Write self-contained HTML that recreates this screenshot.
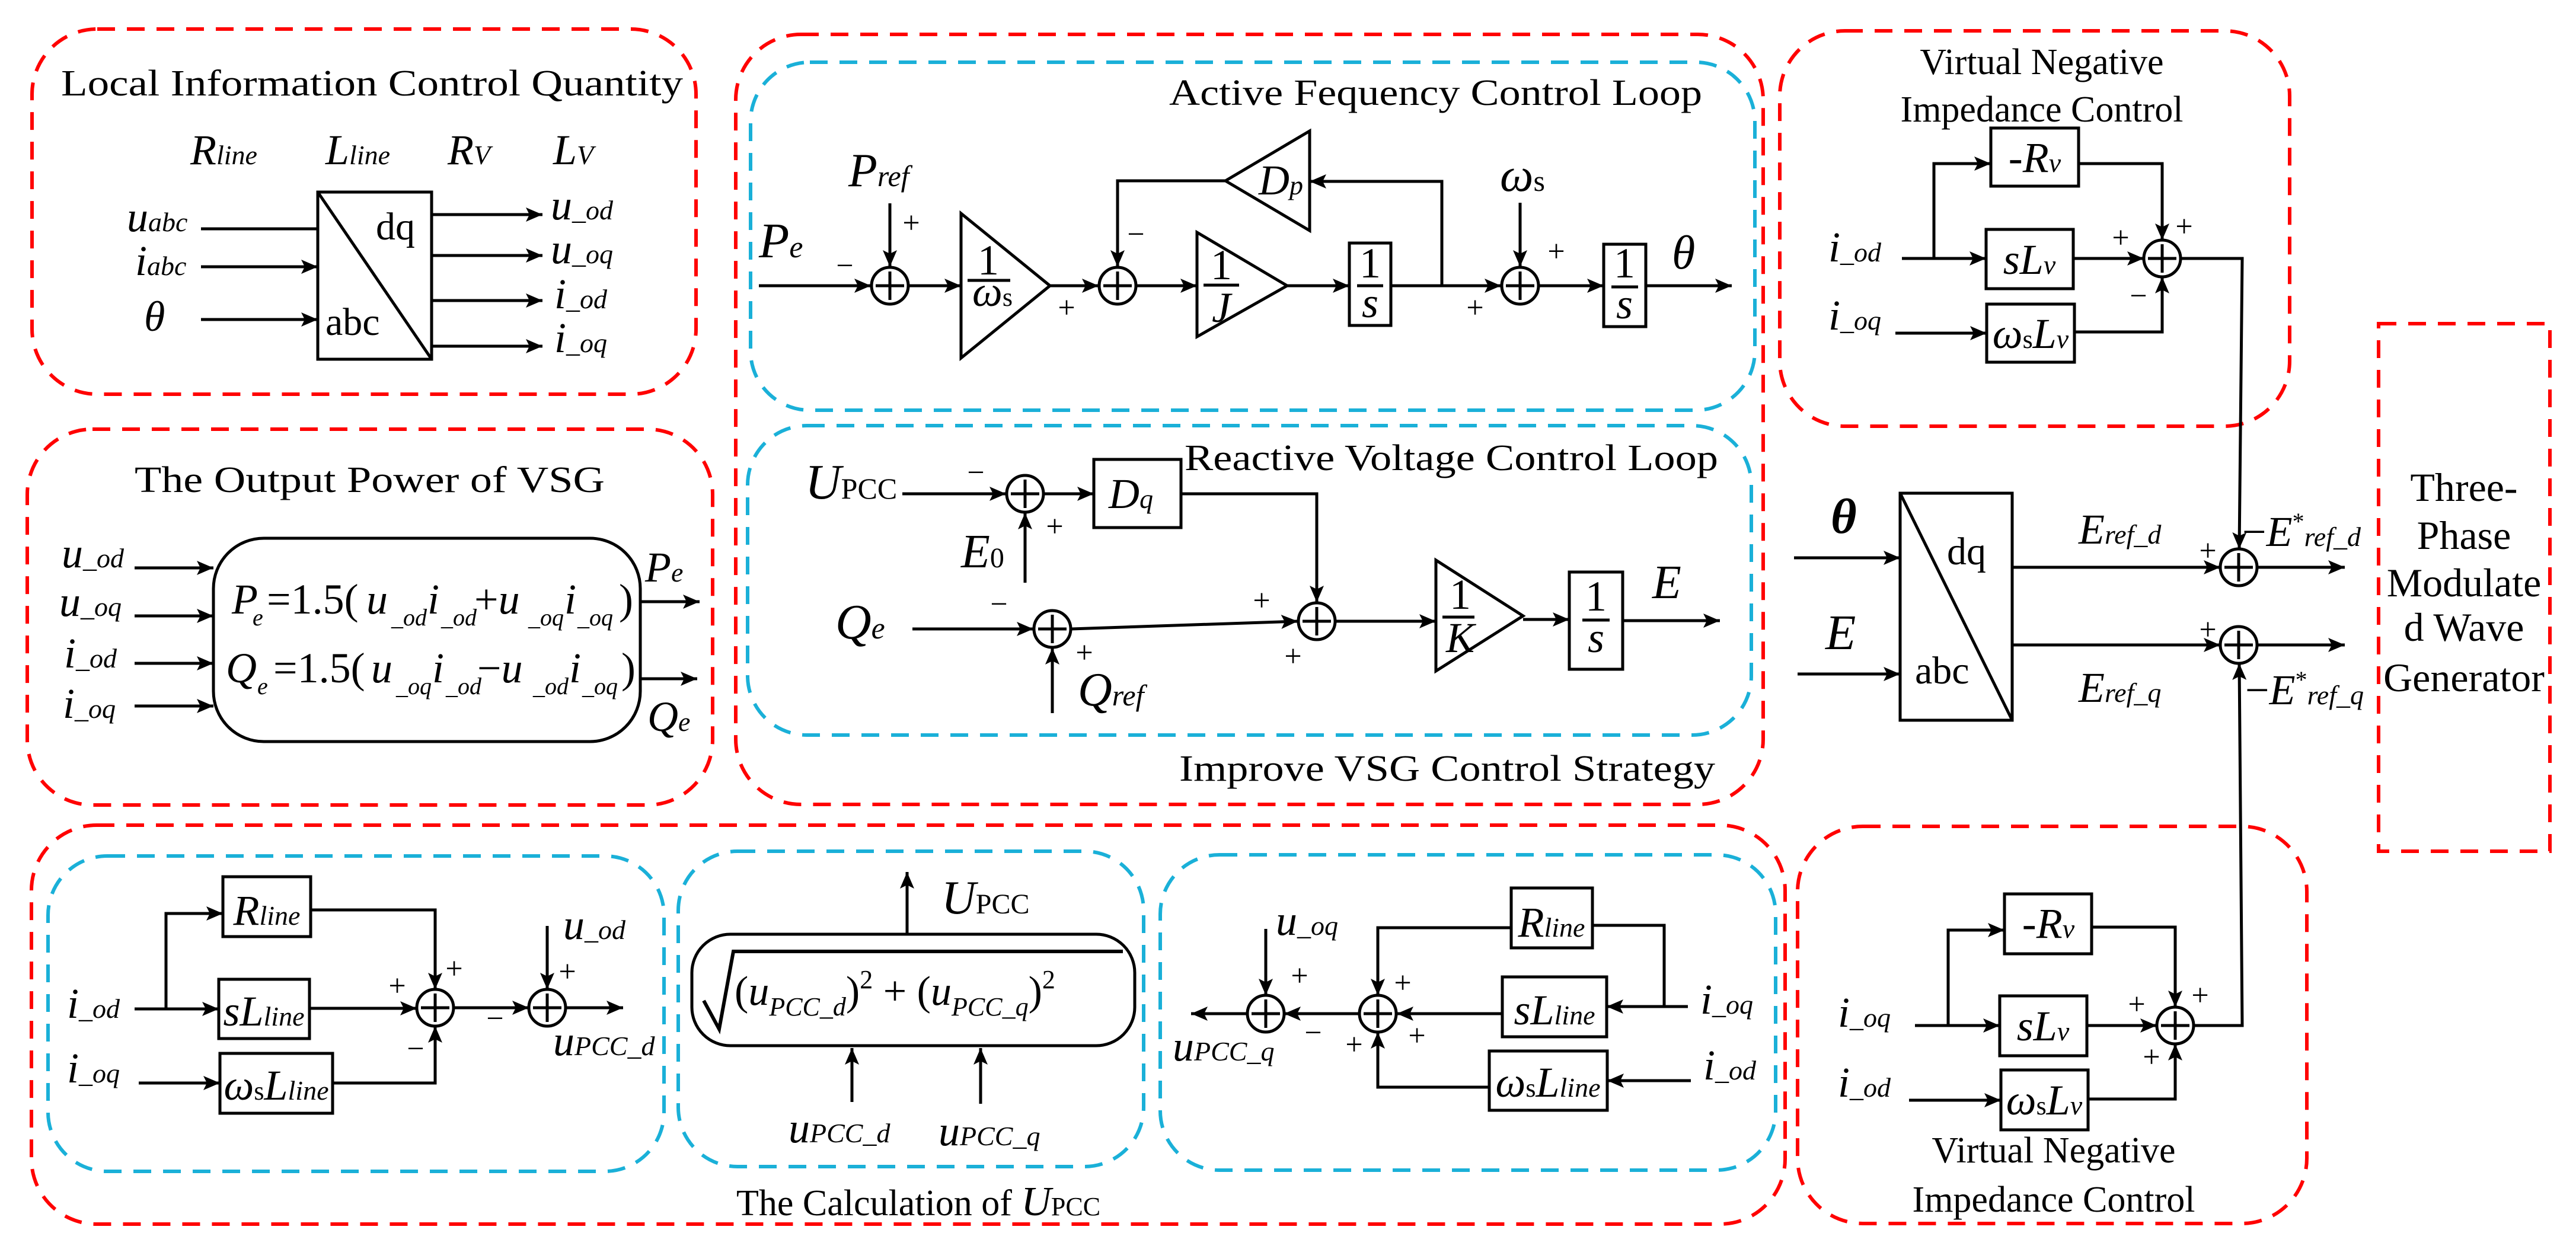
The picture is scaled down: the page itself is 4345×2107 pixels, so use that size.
<!DOCTYPE html>
<html><head><meta charset="utf-8"><style>html,body{margin:0;padding:0;background:#fff}svg{display:block}</style></head>
<body>
<svg width="4345" height="2107" viewBox="0 0 4345 2107" xmlns="http://www.w3.org/2000/svg" font-family="Liberation Serif, serif">
<defs>
<marker id="a" markerUnits="userSpaceOnUse" markerWidth="30" markerHeight="24" refX="28" refY="12" orient="auto"><path d="M0,0 L28,12 L0,24 L6,12 z" fill="#000"/></marker>
<g id="sum"><circle r="31" fill="#fff" stroke="#000" stroke-width="5"/><path d="M-24,0H24M0,-24V24" stroke="#000" stroke-width="5"/></g>
</defs>
<rect width="4345" height="2107" fill="#fff"/>

<g fill="none" stroke-width="6" stroke-dasharray="30,20">
<rect x="54" y="49" width="1120" height="616" rx="110" stroke="#f00"/>
<rect x="46" y="724" width="1156" height="634" rx="110" stroke="#f00"/>
<rect x="1241" y="58" width="1733" height="1299" rx="110" stroke="#f00"/>
<rect x="1266" y="105" width="1694" height="587" rx="100" stroke="#1ab0d8"/>
<rect x="1261" y="718" width="1693" height="522" rx="100" stroke="#1ab0d8"/>
<rect x="3002" y="52" width="860" height="667" rx="110" stroke="#f00"/>
<rect x="4012" y="546" width="289" height="890" stroke="#f00"/>
<rect x="53" y="1392" width="2958" height="673" rx="110" stroke="#f00"/>
<rect x="81" y="1444" width="1039" height="532" rx="100" stroke="#1ab0d8"/>
<rect x="1144" y="1436" width="785" height="532" rx="100" stroke="#1ab0d8"/>
<rect x="1957" y="1442" width="1038" height="532" rx="100" stroke="#1ab0d8"/>
<rect x="3032" y="1394" width="859" height="670" rx="110" stroke="#f00"/>
</g>

<g font-size="62" fill="#000">
<text x="103" y="161" textLength="1049" lengthAdjust="spacingAndGlyphs">Local Information Control Quantity</text>
<text x="227" y="830" textLength="793" lengthAdjust="spacingAndGlyphs">The Output Power of  VSG</text>
<text x="1972" y="177" textLength="899" lengthAdjust="spacingAndGlyphs">Active Fequency Control Loop</text>
<text x="1998" y="793" textLength="900" lengthAdjust="spacingAndGlyphs">Reactive Voltage Control Loop</text>
<text x="1989" y="1317" textLength="904" lengthAdjust="spacingAndGlyphs">Improve VSG Control Strategy</text>
<text x="3444" y="125" text-anchor="middle">Virtual Negative</text>
<text x="3444" y="205" text-anchor="middle">Impedance Control</text>
<text x="3464" y="1961" text-anchor="middle">Virtual Negative</text>
<text x="3464" y="2044" text-anchor="middle">Impedance Control</text>
<text x="1242" y="2050">The Calculation of <tspan font-style="italic" font-size="70">U</tspan><tspan font-size="44">PCC</tspan></text>
</g>
<g font-size="68" text-anchor="middle" font-family="Liberation Serif, serif">
<text x="4156" y="845">Three-</text><text x="4156" y="926">Phase</text><text x="4156" y="1006">Modulate</text><text x="4156" y="1081">d Wave</text><text x="4156" y="1166">Generator</text>
</g>

<g stroke="#000" stroke-width="5" fill="none" marker-end="url(#a)">
<path d="M339,386H536M339,450H536"/><path d="M339,539H536"/>
<path d="M728,362H915"/><path d="M728,431H915"/><path d="M728,507H915"/><path d="M728,584H915"/>
<path d="M227,958H360"/><path d="M227,1039H360"/><path d="M227,1119H360"/><path d="M227,1191H360"/>
<path d="M1080,1015H1180"/><path d="M1080,1145H1176"/>
<path d="M1280,482H1469"/><path d="M1501,343V450"/><path d="M1533,482H1621"/><path d="M1771,482H1853"/>
<path d="M2067,305H1885V450"/><path d="M1917,482H2019"/><path d="M2171,482H2276"/><path d="M2346,482H2532"/>
<path d="M2432,482V306H2209"/><path d="M2564,342V450"/><path d="M2596,482H2705"/><path d="M2776,482H2921"/>
<path d="M1522,833H1697"/><path d="M1729,983V865"/><path d="M1761,833H1845"/><path d="M1992,833H2221V1016"/>
<path d="M1539,1061H1743"/><path d="M1775,1203V1093"/><path d="M1807,1061L2189,1048"/>
<path d="M2253,1048H2422"/><path d="M2569,1045H2647"/><path d="M2737,1047H2901"/>
<path d="M3208,436H3350"/><path d="M3262,436V276H3358"/><path d="M3197,562H3351"/>
<path d="M3506,276H3647V405"/><path d="M3497,436H3616"/><path d="M3499,560H3647V467"/>
<path d="M3678,436H3782L3777,926"/>
<path d="M3026,941H3205"/><path d="M3032,1137H3205"/>
<path d="M3394,957H3745"/><path d="M3394,1088H3745"/><path d="M3807,957H3955"/><path d="M3807,1088H3955"/>
<path d="M3700,1730H3782L3777,1119"/>
<path d="M227,1702H369"/><path d="M280,1702V1541H376"/><path d="M234,1827H371"/>
<path d="M524,1535H734V1669"/><path d="M522,1701H703"/><path d="M561,1827H734V1731"/>
<path d="M765,1700H892"/><path d="M923,1562V1669"/><path d="M954,1700H1051"/>
<path d="M1530,1576V1471"/><path d="M1437,1859V1768"/><path d="M1654,1862V1768"/>
<path d="M2847,1698H2710"/><path d="M2807,1698V1561H2686" marker-end="none"/>
<path d="M2549,1565H2324V1679"/><path d="M2534,1710H2356"/><path d="M2852,1823H2711"/>
<path d="M2512,1834H2324V1741"/><path d="M2293,1710H2166"/><path d="M2135,1567V1679"/><path d="M2104,1710H2009"/>
<path d="M3230,1730H3373"/><path d="M3286,1730V1569H3381"/><path d="M3220,1856H3375"/>
<path d="M3528,1564H3669V1699"/><path d="M3520,1730H3638"/><path d="M3522,1854H3669V1761"/>
</g>

<g stroke="#000" stroke-width="5" fill="none">
<rect x="536" y="324" width="192" height="282"/><path d="M536,324L728,606"/>
<rect x="3205" y="832" width="189" height="383"/><path d="M3205,832L3394,1215"/>
<rect x="360" y="908" width="720" height="343" rx="85"/>
<path d="M1621,360V604L1771,482Z"/><path d="M2019,392V568L2171,482Z"/><path d="M2067,305L2209,221V389Z"/>
<rect x="2276" y="410" width="70" height="139"/><rect x="2705" y="412" width="71" height="139"/>
<rect x="1845" y="775" width="147" height="115"/>
<path d="M2422,945V1132L2569,1039Z"/><rect x="2647" y="965" width="90" height="164"/>
<rect x="3358" y="216" width="148" height="98"/><rect x="3350" y="387" width="147" height="100"/><rect x="3351" y="513" width="148" height="98"/>
<rect x="376" y="1479" width="148" height="101"/><rect x="369" y="1652" width="153" height="100"/><rect x="371" y="1777" width="190" height="101"/>
<rect x="1167" y="1576" width="747" height="188" rx="65"/>
<path d="M1187,1688L1213,1736L1237,1605H1894" stroke-width="6"/>
<rect x="2549" y="1498" width="137" height="101"/><rect x="2534" y="1648" width="176" height="101"/><rect x="2512" y="1773" width="199" height="100"/>
<rect x="3381" y="1508" width="147" height="101"/><rect x="3373" y="1680" width="147" height="101"/><rect x="3375" y="1805" width="147" height="101"/>
<path d="M2346,482H2432"/><path d="M1632,473H1704M2030,481H2090M2289,482H2333M2718,484H2763M2433,1041H2487M2669,1046H2715"/>
</g>
<use href="#sum" x="1501" y="482"/><use href="#sum" x="1885" y="482"/><use href="#sum" x="2564" y="482"/>
<use href="#sum" x="1729" y="833"/><use href="#sum" x="1775" y="1061"/><use href="#sum" x="2221" y="1048"/>
<use href="#sum" x="3647" y="436"/><use href="#sum" x="3776" y="957"/><use href="#sum" x="3776" y="1088"/>
<use href="#sum" x="734" y="1700"/><use href="#sum" x="923" y="1700"/><use href="#sum" x="2324" y="1710"/>
<use href="#sum" x="2135" y="1710"/><use href="#sum" x="3669" y="1730"/>

<g font-size="72" font-style="italic">
<text x="321" y="277">R<tspan font-size="46">line</tspan></text>
<text x="549" y="277">L<tspan font-size="46">line</tspan></text>
<text x="755" y="277">R<tspan font-size="46">V</tspan></text>
<text x="933" y="277">L<tspan font-size="46">V</tspan></text>
<text x="214" y="390">u<tspan font-size="46">abc</tspan></text>
<text x="228" y="464">i<tspan font-size="46">abc</tspan></text>
<text x="243" y="558">θ</text>
<text x="929" y="370">u<tspan font-size="46">_od</tspan></text>
<text x="929" y="444">u<tspan font-size="46">_oq</tspan></text>
<text x="935" y="520">i<tspan font-size="46">_od</tspan></text>
<text x="935" y="594">i<tspan font-size="46">_oq</tspan></text>
<text x="104" y="957">u<tspan font-size="46">_od</tspan></text>
<text x="100" y="1039">u<tspan font-size="46">_oq</tspan></text>
<text x="108" y="1126">i<tspan font-size="46">_od</tspan></text>
<text x="106" y="1211">i<tspan font-size="46">_oq</tspan></text>
<text x="1088" y="981">P<tspan font-size="46">e</tspan></text>
<text x="1092" y="1233">Q<tspan font-size="46">e</tspan></text>
<text x="391" y="1035">P</text><text x="426" y="1055" font-size="40">e</text>
<text x="450" y="1035" font-style="normal">=1.5(</text>
<text x="618" y="1035">u</text><text x="660" y="1055" font-size="40">_od</text>
<text x="721" y="1035">i</text><text x="744" y="1055" font-size="40">_od</text>
<text x="800" y="1035"><tspan font-style="normal">+</tspan>u</text><text x="891" y="1055" font-size="40">_oq</text>
<text x="952" y="1035">i</text><text x="974" y="1055" font-size="40">_oq</text>
<text x="1044" y="1035" font-style="normal">)</text>
<text x="381" y="1151">Q</text><text x="434" y="1171" font-size="40">e</text>
<text x="461" y="1151" font-style="normal">=1.5(</text>
<text x="626" y="1151">u</text><text x="668" y="1171" font-size="40">_oq</text>
<text x="729" y="1151">i</text><text x="752" y="1171" font-size="40">_od</text>
<text x="805" y="1151"><tspan font-style="normal">−</tspan>u</text><text x="899" y="1171" font-size="40">_od</text>
<text x="960" y="1151">i</text><text x="982" y="1171" font-size="40">_oq</text>
<text x="1048" y="1151" font-style="normal">)</text>
<text x="1280" y="434" font-size="84">P<tspan font-size="52">e</tspan></text>
<text x="1431" y="314" font-size="80">P<tspan font-size="50">ref</tspan></text>
<text x="1667" y="463" font-style="normal" text-anchor="middle">1</text>
<text x="1640" y="516">ω<tspan font-size="44" font-style="normal">s</tspan></text>
<text x="2123" y="328">D<tspan font-size="46">p</tspan></text>
<text x="2060" y="471" font-style="normal" text-anchor="middle">1</text>
<text x="2060" y="543" text-anchor="middle">J</text>
<text x="2311" y="468" font-style="normal" text-anchor="middle">1</text>
<text x="2311" y="535" text-anchor="middle">s</text>
<text x="2740" y="468" font-style="normal" text-anchor="middle">1</text>
<text x="2740" y="537" text-anchor="middle">s</text>
<text x="2530" y="322" font-size="80">ω<tspan font-size="50" font-style="normal">s</tspan></text>
<text x="2820" y="453" font-size="80">θ</text>
<text x="1358" y="841" font-size="84">U<tspan font-size="50" font-style="normal">PCC</tspan></text>
<text x="1621" y="957" font-size="80">E<tspan font-size="48" font-style="normal">0</tspan></text>
<text x="1870" y="857">D<tspan font-size="46">q</tspan></text>
<text x="1409" y="1077" font-size="84">Q<tspan font-size="52">e</tspan></text>
<text x="1818" y="1190" font-size="80">Q<tspan font-size="50">ref</tspan></text>
<text x="2463" y="1027" font-style="normal" text-anchor="middle">1</text>
<text x="2463" y="1100" text-anchor="middle">K</text>
<text x="2692" y="1030" font-style="normal" text-anchor="middle">1</text>
<text x="2692" y="1100" text-anchor="middle">s</text>
<text x="2787" y="1009" font-size="80">E</text>
<text x="3432" y="290" text-anchor="middle">-R<tspan font-size="46">v</tspan></text>
<text x="3423" y="462" text-anchor="middle">sL<tspan font-size="46">v</tspan></text>
<text x="3425" y="587" text-anchor="middle">ω<tspan font-size="44" font-style="normal">s</tspan>L<tspan font-size="46">v</tspan></text>
<text x="3084" y="441">i<tspan font-size="46">_od</tspan></text>
<text x="3084" y="556">i<tspan font-size="46">_oq</tspan></text>
<text x="3088" y="899" font-weight="bold" font-size="84">θ</text>
<text x="3079" y="1095" font-size="84">E</text>
<text x="3284" y="952" font-style="normal" font-size="66">dq</text>
<text x="3230" y="1153" font-style="normal" font-size="66">abc</text>
<text x="3506" y="917">E<tspan font-size="46">ref_d</tspan></text>
<text x="3506" y="1184">E<tspan font-size="46">ref_q</tspan></text>
<text x="3782" y="921"><tspan font-style="normal">−</tspan>E<tspan font-size="40" dy="-28" font-style="normal">*</tspan><tspan font-size="46" dy="28">ref_d</tspan></text>
<text x="3787" y="1188"><tspan font-style="normal">−</tspan>E<tspan font-size="40" dy="-28" font-style="normal">*</tspan><tspan font-size="46" dy="28">ref_q</tspan></text>
<text x="634" y="404" font-style="normal" font-size="66">dq</text>
<text x="549" y="565" font-style="normal" font-size="66">abc</text>
<text x="450" y="1560" text-anchor="middle">R<tspan font-size="46">line</tspan></text>
<text x="445" y="1730" text-anchor="middle">sL<tspan font-size="46">line</tspan></text>
<text x="466" y="1855" text-anchor="middle">ω<tspan font-size="44" font-style="normal">s</tspan>L<tspan font-size="46">line</tspan></text>
<text x="113" y="1717">i<tspan font-size="46">_od</tspan></text>
<text x="113" y="1826">i<tspan font-size="46">_oq</tspan></text>
<text x="950" y="1584">u<tspan font-size="46">_od</tspan></text>
<text x="933" y="1780">u<tspan font-size="46">PCC_d</tspan></text>
<text x="1239" y="1695" font-size="70"><tspan font-style="normal">(</tspan>u<tspan font-size="44" dy="18">PCC_d</tspan><tspan font-style="normal" dy="-18">)</tspan><tspan font-size="44" font-style="normal" dy="-28">2</tspan><tspan font-style="normal" dy="28"> + (</tspan>u<tspan font-size="44" dy="18">PCC_q</tspan><tspan font-style="normal" dy="-18">)</tspan><tspan font-size="44" font-style="normal" dy="-28">2</tspan></text>
<text x="1588" y="1541" font-size="80">U<tspan font-size="48" font-style="normal">PCC</tspan></text>
<text x="1330" y="1927">u<tspan font-size="46">PCC_d</tspan></text>
<text x="1583" y="1932">u<tspan font-size="46">PCC_q</tspan></text>
<text x="2617" y="1580" text-anchor="middle">R<tspan font-size="46">line</tspan></text>
<text x="2622" y="1728" text-anchor="middle">sL<tspan font-size="46">line</tspan></text>
<text x="2611" y="1850" text-anchor="middle">ω<tspan font-size="44" font-style="normal">s</tspan>L<tspan font-size="46">line</tspan></text>
<text x="2868" y="1710">i<tspan font-size="46">_oq</tspan></text>
<text x="2873" y="1821">i<tspan font-size="46">_od</tspan></text>
<text x="2152" y="1577">u<tspan font-size="46">_oq</tspan></text>
<text x="1978" y="1789">u<tspan font-size="46">PCC_q</tspan></text>
<text x="3455" y="1582" text-anchor="middle">-R<tspan font-size="46">v</tspan></text>
<text x="3446" y="1755" text-anchor="middle">sL<tspan font-size="46">v</tspan></text>
<text x="3448" y="1880" text-anchor="middle">ω<tspan font-size="44" font-style="normal">s</tspan>L<tspan font-size="46">v</tspan></text>
<text x="3100" y="1732">i<tspan font-size="46">_oq</tspan></text>
<text x="3100" y="1850">i<tspan font-size="46">_od</tspan></text>
</g>

<g font-size="52" text-anchor="middle">
<text x="1425" y="465">−</text><text x="1537" y="393">+</text><text x="1799" y="536">+</text><text x="1916" y="412">−</text>
<text x="2488" y="536">+</text><text x="2625" y="441">+</text>
<text x="1646" y="814">−</text><text x="1779" y="905">+</text><text x="1685" y="1036">−</text><text x="1829" y="1118">+</text>
<text x="2128" y="1030">+</text><text x="2181" y="1124">+</text>
<text x="3684" y="399">+</text><text x="3577" y="418">+</text><text x="3607" y="516">−</text>
<text x="3724" y="946">+</text><text x="3724" y="1079">+</text>
<text x="766" y="1651">+</text><text x="670" y="1680">+</text><text x="701" y="1786">−</text><text x="835" y="1735">−</text><text x="957" y="1656">+</text>
<text x="2192" y="1663">+</text><text x="2366" y="1675">+</text><text x="2390" y="1764">+</text><text x="2284" y="1779">+</text><text x="2215" y="1759">−</text>
<text x="3711" y="1696">+</text><text x="3604" y="1711">+</text><text x="3629" y="1800">+</text>
</g>
</svg>
</body></html>
